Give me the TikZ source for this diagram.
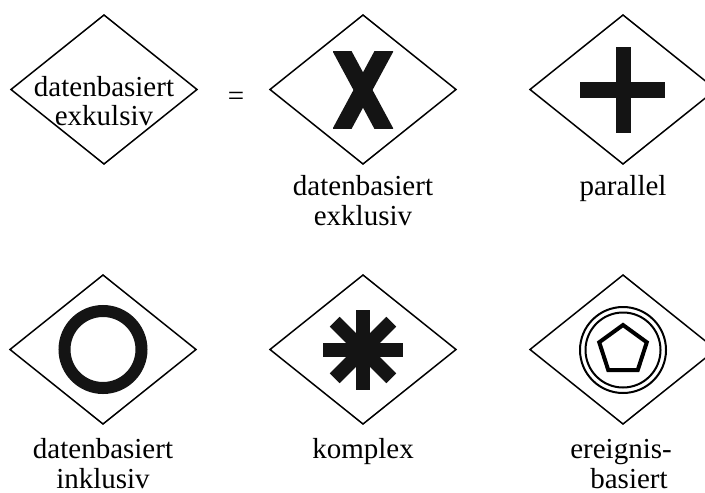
\documentclass[tikz,border=0pt]{standalone}
\usepackage{fontspec}
\setmainfont{Liberation Serif}
\usetikzlibrary{shapes.geometric}
\begin{document}
\begin{tikzpicture}[x=0.5pt,y=-0.5pt,
  gw/.style={diamond, draw, line width=0.75pt, minimum width=93pt, minimum height=74.5pt, inner sep=0pt, outer sep=0pt},
  lbl/.style={anchor=base, inner sep=0pt, font=\fontsize{14.5}{17}\selectfont},
  ink/.style={fill=black!92}]
\useasboundingbox (0,0) rectangle (705,492);
\clip (0,0) rectangle (705,492);
% gateways
\node[gw] (g1) at (104,89.5) {};
\node[gw] (g2) at (363,89.5) {};
\node[gw] (g3) at (623,89.5) {};
\node[gw] (g4) at (103,349.5) {};
\node[gw] (g5) at (363,349.5) {};
\node[gw] (g6) at (623,349.5) {};
% text in first diamond and equals sign
\node[lbl] (t1a) at (104,97) {datenbasiert};
\node[lbl] (t1b) at (104,125) {exkulsiv};
\node[lbl, anchor=center] (eq) at (236,98.5) {=};
% X marker
\begin{scope}
\clip (333,52) rectangle (393,128);
\draw[line width=8.4pt, black!92] (334.3,36.8) -- (391.7,143.2);
\draw[line width=8.4pt, black!92] (391.7,36.8) -- (334.3,143.2);
\end{scope}
% plus marker
\fill[ink] (615.5,47) rectangle (630.5,133);
\fill[ink] (580,82.5) rectangle (665,97.5);
% circle marker
\draw[line width=6pt, black!92] (g4.center) circle[radius=19.25pt];
% asterisk marker
\foreach \a in {0,45,90,135}
  \fill[ink, rotate around={\a:(363,350)}] (356,310) rectangle (370,390);
% event-based marker
\coordinate (ev) at (623,350);
\draw[line width=1pt] (ev) circle[radius=21.5pt];
\draw[line width=1pt] (ev) circle[radius=18.75pt];
\draw[line width=2pt, line join=miter] ([shift={(90:12.5pt)}]ev) -- ([shift={(162:12.5pt)}]ev) -- ([shift={(234:12.5pt)}]ev) -- ([shift={(306:12.5pt)}]ev) -- ([shift={(18:12.5pt)}]ev) -- cycle;
% labels
\node[lbl] (l2a) at (363,195) {datenbasiert};
\node[lbl] (l2b) at (363,225) {exklusiv};
\node[lbl] (l3) at (623,195) {parallel};
\node[lbl] (l4a) at (103,458) {datenbasiert};
\node[lbl] (l4b) at (103,488) {inklusiv};
\node[lbl] (l5) at (363,458) {komplex};
\node[lbl] (l6a) at (621,458) {ereignis-};
\node[lbl] (l6b) at (629,488) {basiert};
\end{tikzpicture}
\end{document}
